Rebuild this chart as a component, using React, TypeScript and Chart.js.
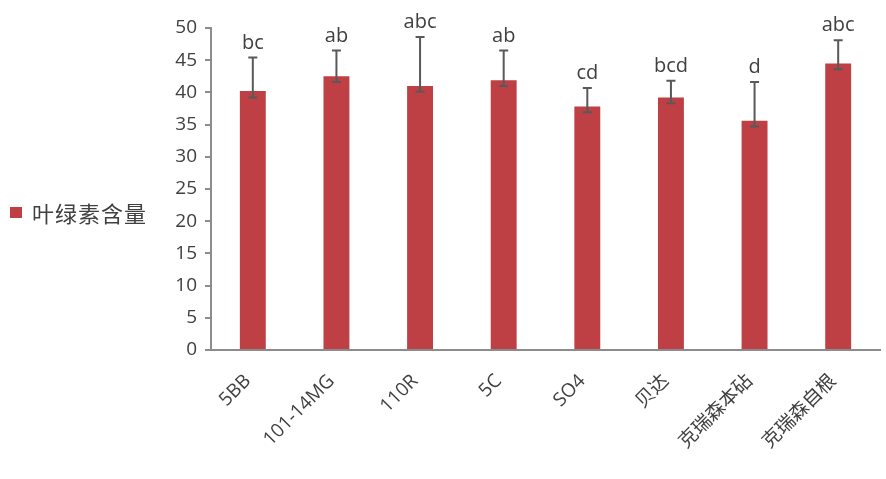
import React, { useEffect, useRef } from "react";
import { Chart, registerables } from "chart.js";

Chart.register(...registerables);

const categories = ["5BB", "101-14MG", "110R", "5C", "SO4", "贝达", "克瑞森本砧", "克瑞森自根"];
const values = [40.2, 42.5, 41.0, 41.9, 37.8, 39.2, 35.6, 44.5];
const errorHigh = [45.4, 46.5, 48.6, 46.5, 40.7, 41.8, 41.6, 48.1];
const errorLow = [39.2, 41.6, 40.1, 41.0, 36.9, 38.3, 34.7, 43.6];
const letters = ["bc", "ab", "abc", "ab", "cd", "bcd", "d", "abc"];
const seriesName = "叶绿素含量";
const yTicks = { min: 0, max: 50, step: 5 };

const BAR_COLOR = "#BE4045";
const TEXT_COLOR = "#404040";
const AXIS_COLOR = "#8C8C8C";

const errorPlugin = {
  id: "errorBarsLetters",
  afterDatasetsDraw(chart: any) {
    const ctx = chart.ctx;
    const meta = chart.getDatasetMeta(0);
    const y = chart.scales.y;
    ctx.save();
    meta.data.forEach((bar: any, i: number) => {
      const x = bar.x;
      const yHi = y.getPixelForValue(errorHigh[i]);
      const yLo = y.getPixelForValue(errorLow[i]);
      ctx.strokeStyle = "#595959";
      ctx.lineWidth = 2;
      ctx.beginPath();
      ctx.moveTo(x, yHi);
      ctx.lineTo(x, yLo);
      ctx.moveTo(x - 4.5, yHi);
      ctx.lineTo(x + 4.5, yHi);
      ctx.moveTo(x - 4.5, yLo);
      ctx.lineTo(x + 4.5, yLo);
      ctx.stroke();
      ctx.fillStyle = TEXT_COLOR;
      ctx.font = "500 20px 'Open Sans', sans-serif";
      ctx.textAlign = "center";
      ctx.textBaseline = "alphabetic";
      ctx.fillText(letters[i], x, yHi - 9);
    });
    ctx.restore();
  },
};

export default function App() {
  const canvasRef = useRef<HTMLCanvasElement | null>(null);

  useEffect(() => {
    const canvas = canvasRef.current;
    if (!canvas) return;
    const chart = new Chart(canvas, {
      type: "bar",
      data: {
        labels: categories,
        datasets: [
          {
            label: seriesName,
            data: values,
            backgroundColor: BAR_COLOR,
            borderWidth: 0,
            categoryPercentage: 1,
            barPercentage: 0.31,
          },
        ],
      },
      options: {
        animation: false,
        responsive: false,
        maintainAspectRatio: false,
        layout: { padding: { left: 151, right: 6, top: 28, bottom: 0 } },
        plugins: {
          legend: { display: false },
          tooltip: { enabled: false },
          title: { display: false },
        },
        scales: {
          x: {
            grid: { display: false, drawTicks: false },
            border: { display: true, color: AXIS_COLOR, width: 2 },
            ticks: {
              color: TEXT_COLOR,
              font: { size: 19, family: "'Open Sans', 'Noto Sans CJK SC', sans-serif" },
              maxRotation: 45,
              minRotation: 45,
              padding: 20,
              labelOffset: -5,
              autoSkip: false,
            },
            afterFit: (scale: any) => {
              scale.height = 129;
            },
          },
          y: {
            min: yTicks.min,
            max: yTicks.max,
            grid: {
              display: true,
              drawOnChartArea: false,
              drawTicks: true,
              tickLength: 6,
              color: AXIS_COLOR,
              lineWidth: 2,
            },
            border: { display: true, color: AXIS_COLOR, width: 2 },
            ticks: {
              stepSize: yTicks.step,
              color: TEXT_COLOR,
              font: { size: 19, family: "'Open Sans', sans-serif" },
              padding: 8,
            },
            afterFit: (scale: any) => {
              scale.width = 60;
            },
          },
        },
      },
      plugins: [errorPlugin],
    });
    return () => chart.destroy();
  }, []);

  return (
    <div style={{ position: "absolute", left: 0, top: 0, width: 886, height: 479, background: "#fff" }}>
      <canvas ref={canvasRef} width={886} height={479} style={{ display: "block" }} />
      <div
        style={{
          position: "absolute",
          left: 10,
          top: 200,
          display: "flex",
          alignItems: "center",
          fontFamily: "'Noto Sans CJK SC', sans-serif",
          fontSize: 22,
          color: "#404040",
          lineHeight: "24px",
        }}
      >
        <span style={{ display: "inline-block", width: 12, height: 11, background: BAR_COLOR, marginRight: 10 }} />
        <span style={{ letterSpacing: 1 }}>{seriesName}</span>
      </div>
    </div>
  );
}
